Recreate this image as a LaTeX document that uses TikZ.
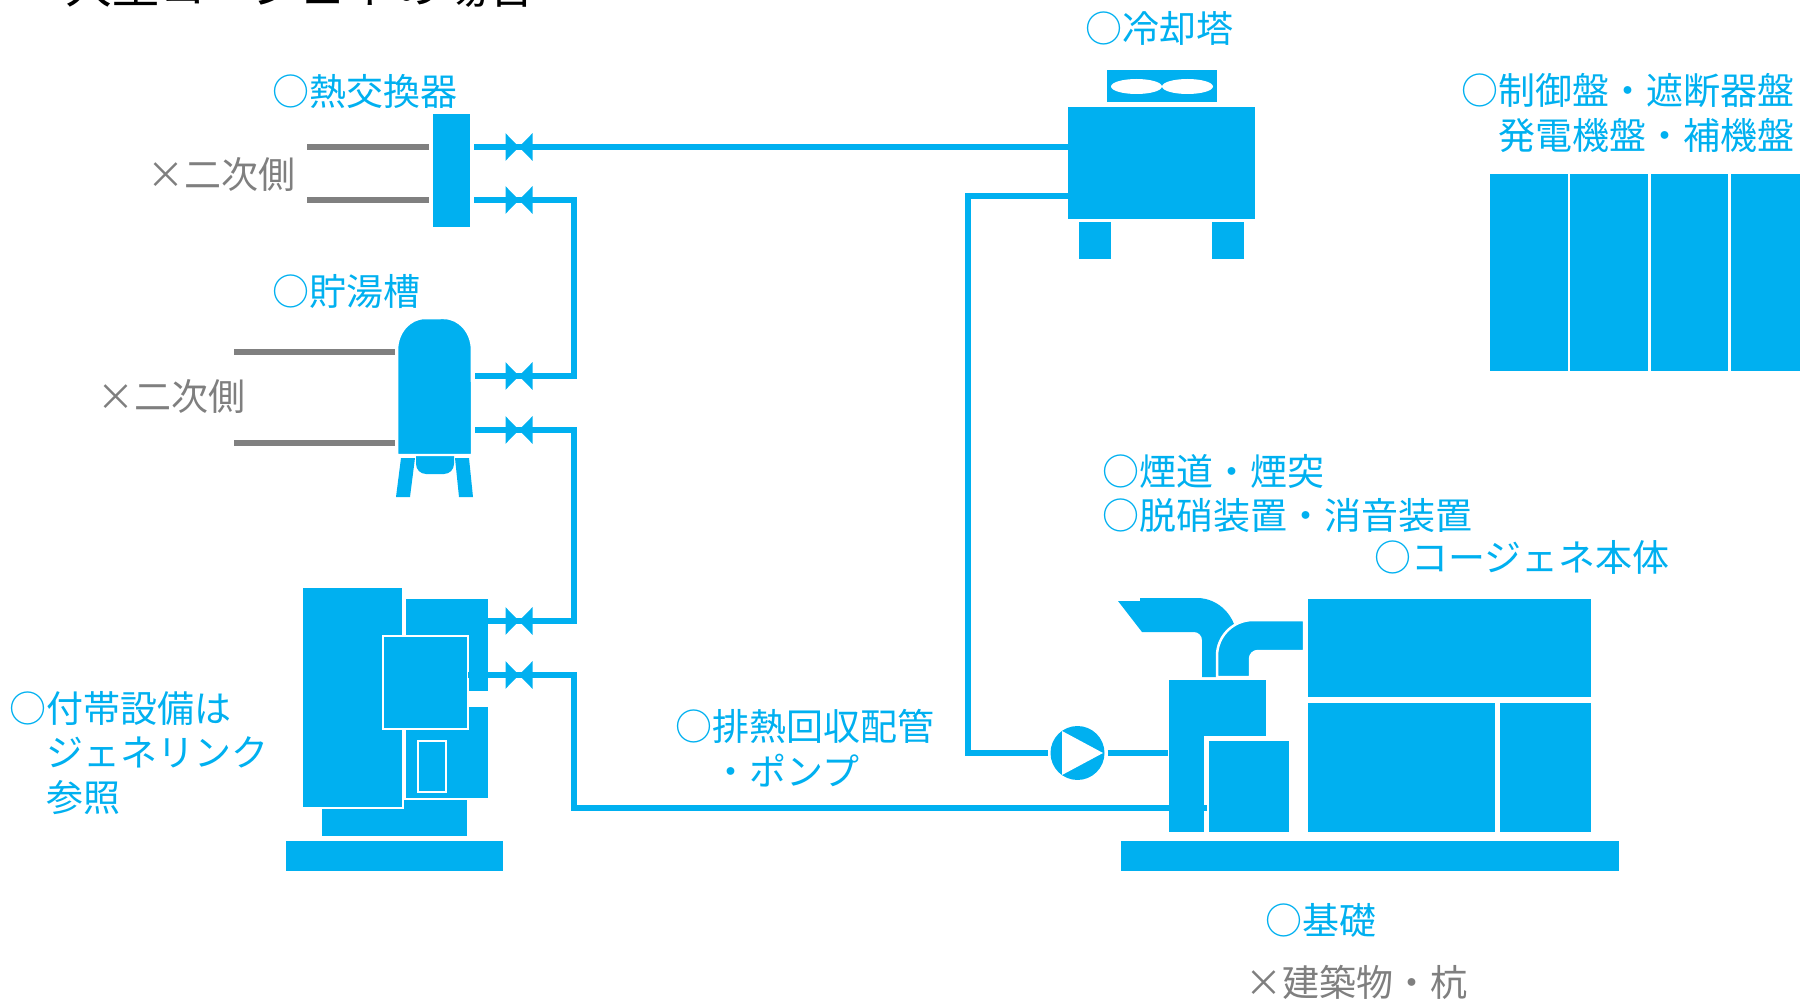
\documentclass[tikz,border=0pt]{standalone}
\usepackage{fontspec}
\setmainfont{Noto Sans CJK JP}

\definecolor{cgblue}{HTML}{00B0F0}
\definecolor{cggray}{HTML}{808080}
\definecolor{cgtext}{HTML}{7F7F7F}

\tikzset{
  equip/.style={fill=cgblue, draw=white, line width=0.05cm},
  pipe/.style={draw=cgblue, line width=0.12cm},
  secline/.style={draw=cggray, line width=0.11cm},
  bluelabel/.style={text=cgblue, inner sep=0pt, font=\fontsize{21.05pt}{25.3pt}\selectfont},
  graylabel/.style={bluelabel, text=cgtext},
  valve/.pic={\fill[cgblue] (-13.5,-13.8) -- (0,0) -- (-13.5,13.8) -- cycle
                            (13.5,-13.8) -- (0,0) -- (13.5,13.8) -- cycle;},
}

\begin{document}
\begin{tikzpicture}[x=0.02cm, y=-0.02cm]
\useasboundingbox (0,0) rectangle (1800,1000);

% heat exchanger
\filldraw[equip] (432,113) rectangle (471,228);
\draw[secline] (307,147) -- ++(122,0);
\draw[secline] (307,200) -- ++(122,0);

% hot water tank
\fill[cgblue] (401,458) -- (415,458) -- (410,497) -- (396,497) -- cycle;
\fill[cgblue] (455,458) -- (469,458) -- (473,497) -- (459,497) -- cycle;
\fill[cgblue, rounded corners=0.2cm] (416,440) rectangle (454,474);
\filldraw[equip] (397,455) -- (397,350) arc[start angle=180, end angle=90, x radius=0.56cm, y radius=0.64cm]
    -- (444,318) arc[start angle=90, end angle=0, x radius=0.56cm, y radius=0.64cm] -- (472,455) -- cycle;
\draw[secline] (234,352) -- ++(161,0);
\draw[secline] (234,443) -- ++(161,0);

% cooling tower
\fill[cgblue] (1107,70) rectangle (1217,102);
\foreach \x in {1136.5,1187.5}
  \fill[white] (\x,86.5) ellipse [x radius=0.51cm, y radius=0.15cm];
\fill[cgblue] (1068,107) rectangle (1255,219);
\foreach \x in {1079,1212}
  \fill[cgblue] (\x,222) rectangle ++(32,37);

% panels
\foreach \x in {1490,1570.3,1650.6,1731}
  \fill[cgblue] (\x,174) rectangle ++(77.5,197);

% auxiliary equipment
\fill[cgblue] (286,841) rectangle (503,871);
\fill[cgblue] (322,800) rectangle (467,836);
\fill[cgblue] (406,599) rectangle (488,691);
\fill[cgblue] (406,707) rectangle (488,798);
\filldraw[equip] (302,587) rectangle (403,808);
\filldraw[equip] (383,636) rectangle (468,729);
\filldraw[equip] (418,741) rectangle (446,792);

% cogeneration unit
\fill[cgblue] (1121,841) rectangle (1619,871);
\fill[cgblue] (1118,601) -- (1140,601) -- (1140,598) -- (1197,598)
    arc[start angle=90, end angle=0, x radius=0.8cm, y radius=0.84cm] -- (1237,677) -- (1202,677)
    -- (1202,640) arc[start angle=0, end angle=90, radius=0.16cm] -- (1142,632) -- cycle;
\filldraw[equip] (1217,677) -- (1217,656) arc[start angle=180, end angle=90, radius=0.72cm]
    -- (1304,620) -- (1304,651) -- (1258,651) arc[start angle=90, end angle=180, radius=0.16cm]
    -- (1250,677) -- cycle;
\filldraw[equip] (1168,679) -- (1267,679) -- (1267,737) -- (1205,737) -- (1205,833) -- (1168,833) -- cycle;
\filldraw[equip] (1208,740) rectangle (1290,833);
\filldraw[equip] (1307,598) rectangle (1592,698);
\filldraw[equip] (1307,702) rectangle (1496,833);
\filldraw[equip] (1499,702) rectangle (1592,833);

% pipe ports
\coordinate (hx-a) at (474,147);
\coordinate (hx-b) at (474,200);
\coordinate (tk-a) at (475,376);
\coordinate (tk-b) at (475,430);
\coordinate (ax-a) at (488,621);
\coordinate (ax-b) at (468,675);
\coordinate (ct-a) at (1068,147);
\coordinate (ct-b) at (1068,196);
\coordinate (cg-in) at (1207,808);
\coordinate (cg-pump) at (1168,753);
\node[circle, fill=cgblue, minimum size=1.08cm, inner sep=0pt, outer sep=0.06cm] (pump) at (1077.5,753) {};
\fill[white] (1062,731) -- (1062,775) -- (1103,753) -- cycle;

% pipes
\draw[pipe] (hx-a) -- (ct-a);
\draw[pipe] (hx-b) -- ++(100,0) |- (tk-a);
\draw[pipe] (tk-b) -- ++(99,0) |- (ax-a);
\draw[pipe] (ax-b) -- ++(106,0) |- (cg-in);
\draw[pipe] (ct-b) -- ++(-100,0) |- (pump.west);
\draw[pipe] (pump.east) -- (cg-pump);
\foreach \y in {147,200,376,430,621,675}
  \pic at (519,\y) {valve};

% labels
\node[anchor=base west, inner sep=0pt, font=\fontsize{26.8pt}{30pt}\selectfont] (title) at (65,4) {大型コージェネの場合};
\node[bluelabel, anchor=west] (hxlabel) at (272,92) {○熱交換器};
\node[graylabel, anchor=west] (hxside) at (147,175) {×二次側};
\node[bluelabel, anchor=west] (tklabel) at (272,292) {○貯湯槽};
\node[graylabel, anchor=west] (tkside) at (97,397) {×二次側};
\node[bluelabel, anchor=west] (ctlabel) at (1085,28) {○冷却塔};
\node[bluelabel, anchor=east, align=right] (pnlabel) at (1795,113) {○制御盤・遮断器盤\\発電機盤・補機盤};
\node[bluelabel, anchor=west, align=left] (exlabel) at (1102,493.5) {○煙道・煙突\\○脱硝装置・消音装置};
\node[bluelabel, anchor=west] (cglabel) at (1374,557.5) {○コージェネ本体};
\node[bluelabel, anchor=west, align=left] (pplabel) at (675,748) {○排熱回収配管\\　・ポンプ};
\node[bluelabel, anchor=west, align=left] (axlabel) at (9,752.8) {○付帯設備は\\　ジェネリンク\\　参照};
\node[bluelabel, anchor=west] (fdlabel) at (1265,920) {○基礎};
\node[graylabel, anchor=west] (bdlabel) at (1245,982) {×建築物・杭};

\end{tikzpicture}
\end{document}
